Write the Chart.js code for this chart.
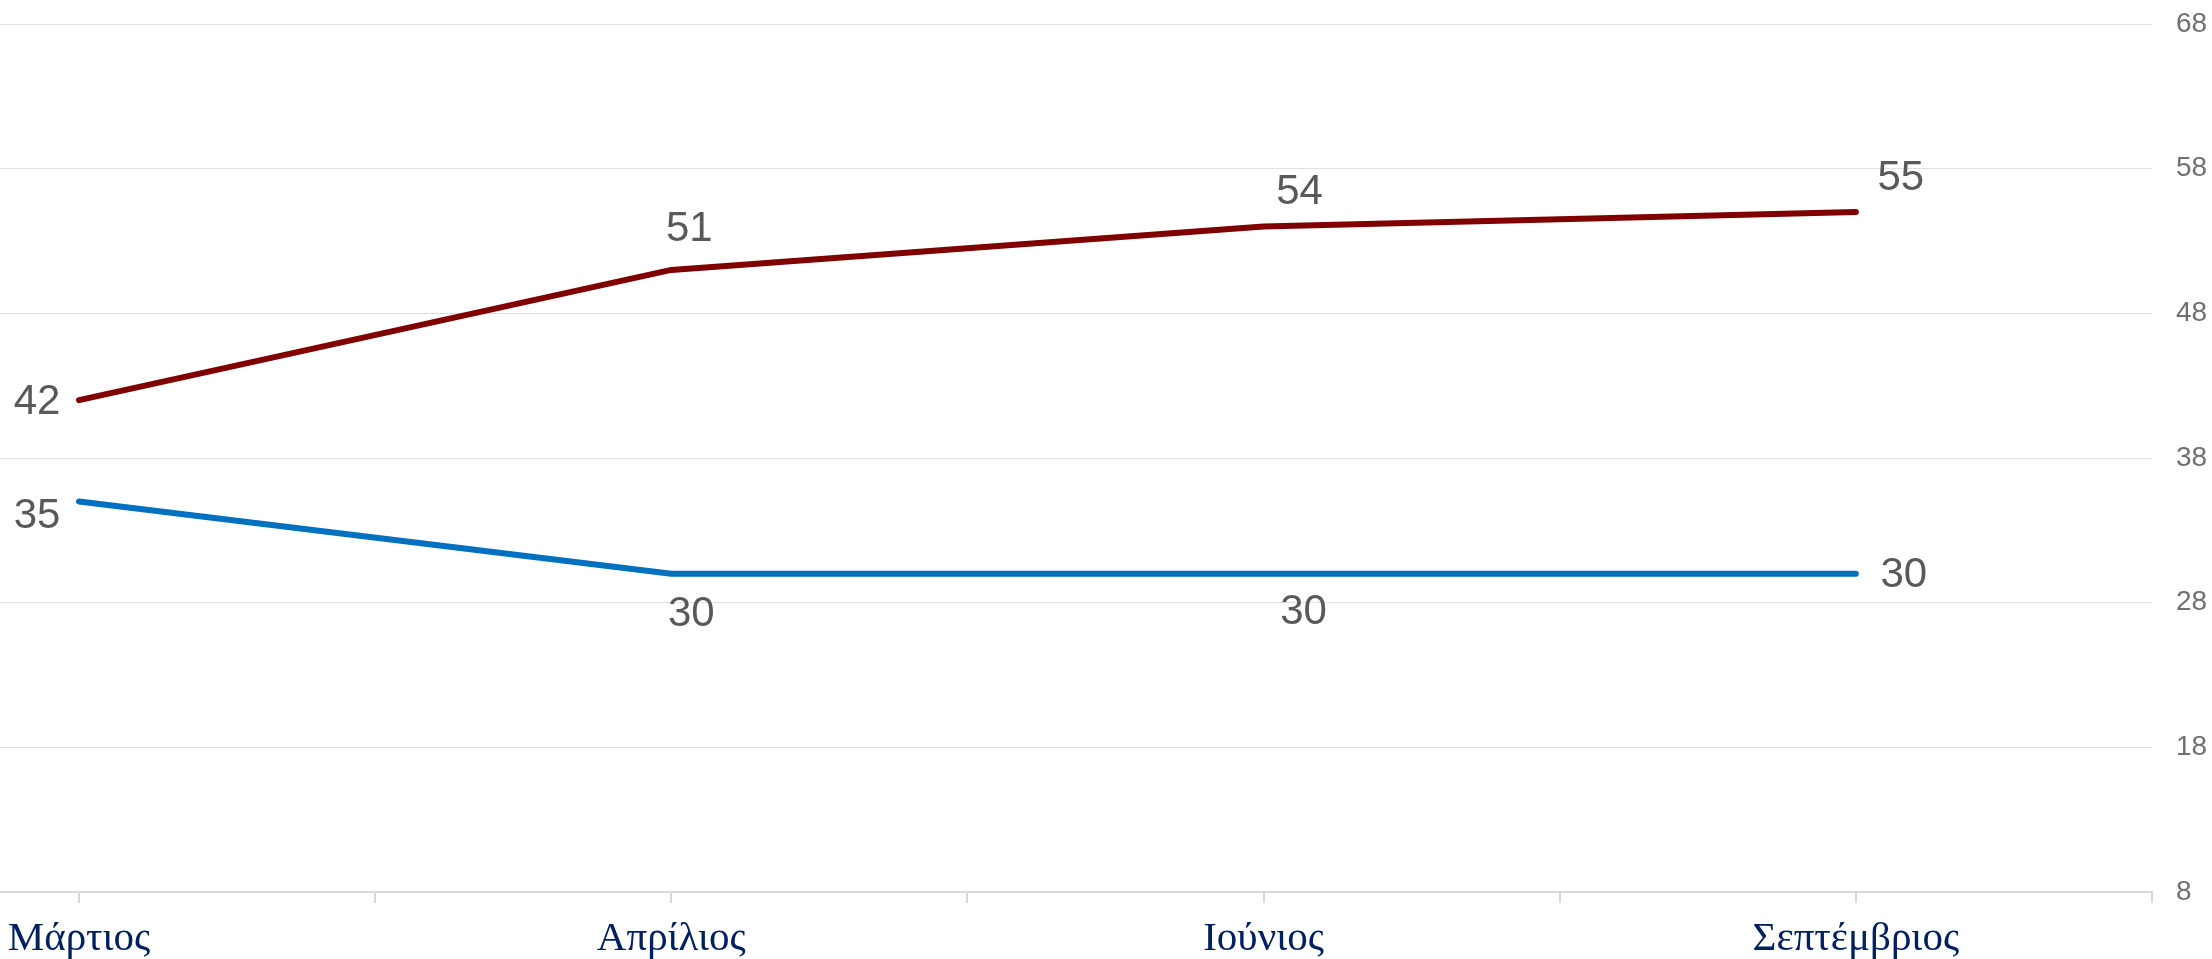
<!DOCTYPE html>
<html>
<head>
<meta charset="utf-8">
<script src="https://cdn.jsdelivr.net/npm/chart.js@4/dist/chart.umd.min.js"></script>
<style>
  html, body { margin: 0; padding: 0; background: #ffffff; }
  #chart { display: block; }
</style>
</head>
<body>
<canvas id="chart" width="2212" height="959"></canvas>
<script>
const months = ["Μάρτιος", "Απρίλιος", "Ιούνιος", "Σεπτέμβριος"];
const redValues = [42, 51, 54, 55];
const blueValues = [35, 30, 30, 30];
const yMin = 8;
const yMax = 68;
const yStep = 10;

// label offsets from each point (centre of the text), per series
const labelOffsets = [
  [[-42, 2], [18, -41], [36, -34], [45, -34]],
  [[-42, 15], [20, 41], [40, 39], [48, 2]]
];

const pointLabels = {
  id: "pointLabels",
  afterDatasetsDraw(chart) {
    const ctx = chart.ctx;
    ctx.save();
    ctx.font = "42px 'Liberation Sans', Arial, sans-serif";
    ctx.fillStyle = "#595959";
    ctx.textAlign = "center";
    ctx.textBaseline = "middle";
    chart.data.datasets.forEach((ds, i) => {
      chart.getDatasetMeta(i).data.forEach((pt, j) => {
        const off = labelOffsets[i][j];
        ctx.fillText(String(ds.data[j].y), pt.x + off[0], pt.y + off[1]);
      });
    });
    ctx.restore();
  }
};

function toPoints(values) {
  return values.map((v, i) => ({ x: i, y: v }));
}

const config = {
  type: "line",
  data: {
    datasets: [
      {
        label: "red",
        data: toPoints(redValues),
        borderColor: "#800000",
        backgroundColor: "#800000",
        borderWidth: 6,
        borderCapStyle: "round",
        borderJoinStyle: "round",
        pointRadius: 0,
        tension: 0
      },
      {
        label: "blue",
        data: toPoints(blueValues),
        borderColor: "#0070c0",
        backgroundColor: "#0070c0",
        borderWidth: 6,
        borderCapStyle: "round",
        borderJoinStyle: "round",
        pointRadius: 0,
        tension: 0
      }
    ]
  },
  options: {
    responsive: false,
    animation: false,
    devicePixelRatio: 1,
    layout: { padding: { top: 24, right: 0, bottom: 0, left: 0 } },
    plugins: {
      legend: { display: false },
      tooltip: { enabled: false }
    },
    events: [],
    scales: {
      x: {
        type: "linear",
        min: -0.1334,
        max: 3.5,
        ticks: {
          stepSize: 0.5,
          includeBounds: false,
          autoSkip: false,
          maxRotation: 0,
          padding: 12,
          color: "#002060",
          font: { family: "'Liberation Serif', 'Times New Roman', serif", size: 41 },
          callback: (v) => (Number.isInteger(v) && months[v] !== undefined ? months[v] : "")
        },
        grid: {
          drawOnChartArea: false,
          drawTicks: true,
          tickLength: 11,
          color: "#d9d9d9",
          lineWidth: 2
        },
        border: { display: true, color: "#d9d9d9", width: 2 },
        afterFit: (scale) => {
          scale.paddingLeft = 0;
          scale.paddingRight = 0;
          scale.height = 67;
        }
      },
      y: {
        position: "right",
        min: yMin,
        max: yMax,
        ticks: {
          stepSize: yStep,
          padding: 24,
          color: "#707070",
          font: { family: "'Liberation Sans', Arial, sans-serif", size: 28 }
        },
        grid: {
          drawTicks: false,
          color: "#e0e0e0",
          lineWidth: 1
        },
        border: { display: false },
        afterFit: (scale) => {
          scale.paddingTop = 0;
          scale.paddingBottom = 0;
          scale.width = 60;
        }
      }
    }
  },
  plugins: [pointLabels]
};

new Chart(document.getElementById("chart"), config);
</script>
</body>
</html>
